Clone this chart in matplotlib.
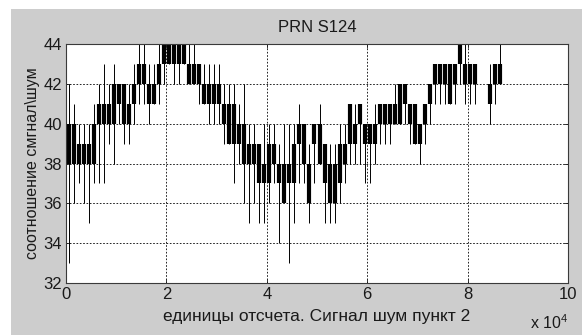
import numpy as np
import matplotlib.pyplot as plt
from matplotlib.patches import Rectangle
from matplotlib.ticker import FuncFormatter

plt.rcParams['font.family'] = ['Liberation Sans', 'DejaVu Sans']
plt.rcParams['mathtext.default'] = 'regular'

# one bin = 1000 samples (nan = no trace)
nan = np.nan
block_lo = [38, 38, 38, 38, 38, 38, 40, 40, 40, 40,
            41, 40, 40, 41, 42, 42, 41, 41, 42, 43,
            43, 43, 43, 43, 42, 42, 42, 41, 41, 41,
            41, 40, 39, 39, 39, 38, 38, 38, 37, 37,
            37, 38, 37, 36, 37, 37, 39, 38, 36, 39,
            38, 37, 36, 36, 37, 38, 39, 39, 40, 39,
            39, 39, 40, 40, 40, 40, 40, 41, 40, 39,
            39, 40, 41, 42, 42, 42, 41, 42, 43, 42,
            42, 42, nan, nan, 41, 42, 42]
block_hi = [40, 40, 39, 39, 39, 40, 41, 41, 41, 42,
            42, 42, 41, 42, 43, 43, 42, 42, 43, 44,
            44, 44, 44, 44, 43, 43, 43, 42, 42, 42,
            42, 41, 41, 41, 40, 40, 39, 39, 39, 38,
            39, 39, 38, 38, 38, 39, 40, 40, 38, 40,
            40, 39, 38, 38, 39, 39, 41, 40, 41, 40,
            40, 40, 41, 41, 41, 41, 42, 42, 41, 41,
            40, 41, 42, 43, 43, 43, 43, 43, 44, 43,
            43, 43, nan, nan, 42, 43, 43]
spike_lo = [33, 36, 37, 36, 35, 37, 37, 37, 39, 38,
            40, 39, 39, 40, 41, 41, 40, 41, 41, 42,
            43, 42, 42, 43, 42, 42, 41, 41, 40, 40,
            40, 39, 39, 37, 38, 36, 35, 36, 35, 35,
            36, 37, 34, 36, 33, 35, 37, 37, 35, 37,
            38, 35, 35, 35, 36, 37, 38, 38, 38, 37,
            37, 38, 39, 39, 39, 40, 40, 40, 39, 39,
            38, 39, 40, 41, 41, 41, 41, 41, 42, 41,
            41, 41, nan, nan, 40, 41, 42]
spike_hi = [42, 41, 40, 40, 40, 41, 42, 43, 42, 43,
            42, 42, 42, 43, 44, 44, 43, 43, 44, 44,
            44, 44, 44, 44, 44, 44, 43, 43, 43, 43,
            43, 42, 42, 42, 41, 42, 40, 40, 39, 40,
            40, 40, 39, 40, 40, 40, 41, 40, 39, 40,
            41, 39, 39, 39, 40, 40, 41, 41, 41, 40,
            40, 41, 41, 41, 41, 42, 42, 42, 41, 41,
            40, 41, 42, 43, 43, 43, 43, 43, 44, 44,
            43, 43, nan, nan, 43, 43, 44]

x_ticks = [0, 20000, 40000, 60000, 80000, 100000]
y_ticks = [32, 34, 36, 38, 40, 42, 44]

samples = np.arange(len(block_lo)) * 1000 + 500
block_lo = np.array(block_lo, float)
block_hi = np.array(block_hi, float)
spike_lo = np.array(spike_lo, float)
spike_hi = np.array(spike_hi, float)
ok = ~np.isnan(block_lo)

fig = plt.figure(figsize=(5.82, 3.36), dpi=100)
fig.patch.set_facecolor('white')
fig.add_artist(Rectangle((11/582, 1/336), 571/582, 326/336, transform=fig.transFigure,
                         facecolor='#cdcdcd', edgecolor='none', zorder=-5))

ax = fig.add_axes([66/582, 1-283/336, (568-66)/582, (283-44)/336])
ax.set_facecolor('white')

ax.vlines(samples[ok], spike_lo[ok], spike_hi[ok], color='black', lw=0.7)
ax.vlines(samples[ok], block_lo[ok], block_hi[ok], color='black', lw=3.0)

ax.set_xlim(0, 100000)
ax.set_ylim(32, 44)
ax.set_xticks(x_ticks)
ax.set_yticks(y_ticks)
ax.xaxis.set_major_formatter(FuncFormatter(lambda v, p: '%g' % (v / 1e4)))
ax.tick_params(direction='in', length=3, width=0.6, top=True, right=True,
               labelsize=12, colors='#1a1a1a', pad=3)
ax.grid(True, color='black', linestyle=(0, (2, 2)), lw=0.6)
for s in ax.spines.values():
    s.set_color('#3a3a3a')
    s.set_linewidth(0.8)

ax.set_title('PRN S124', fontsize=12, pad=9, color='#1a1a1a')
ax.set_xlabel('единицы отсчета. Сигнал шум пункт 2', fontsize=12.5, labelpad=5, color='#1a1a1a')
ax.set_ylabel('соотношение смгнал\\шум', fontsize=11.5, labelpad=2, color='#1a1a1a')
fig.text(568/582, 1-329/336, 'x 10$^{4}$', ha='right', va='baseline', fontsize=11.5, color='#1a1a1a')

fig.savefig('out.png', dpi=100)
